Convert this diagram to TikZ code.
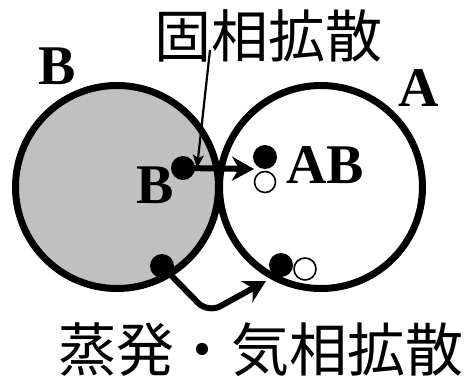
\documentclass[tikz,border=0pt]{standalone}
\usepackage{fontspec}
\setmainfont{Liberation Serif}
\newfontfamily\cjk{Noto Sans CJK JP}
\usetikzlibrary{arrows.meta}
\definecolor{fillgray}{HTML}{C0C0C0}
\tikzset{
  particle/.style={circle, draw, line width=7pt, minimum size=203pt, inner sep=0pt},
  lbl/.style={inner sep=0pt, font=\fontsize{56}{60}\selectfont\bfseries},
  jlbl/.style={inner sep=0pt, font=\fontsize{57}{60}\selectfont\cjk},
  fdot/.style={circle, fill=black, minimum size=24pt, inner sep=0pt},
  odot/.style={circle, draw=black, line width=1.6pt, fill=white, minimum size=21pt, inner sep=0pt},
  thick arrow/.style={line width=6pt, -{Stealth[length=22pt, width=24pt, inset=7pt]}},
  thin arrow/.style={line width=2.2pt, -{Stealth[length=13pt, width=11pt, inset=3pt]}}
}
\begin{document}
\begin{tikzpicture}[x=1pt, y=-1pt]
\useasboundingbox (0,0) rectangle (469,381);
\node[particle, fill=fillgray] (pB) at (117,187) {};
\node[particle] (pA) at (321,187) {};
\node[lbl] (labB) at (57.5,66) {B};
\node[lbl] (labA) at (419,88) {A};
\node[lbl] (inB) at (155,185) {B};
\node[lbl] (AB) at (325,165) {AB};
\node[jlbl] (solid) at (268,36) {固相拡散};
\node[jlbl, font=\fontsize{58}{60}\selectfont\cjk] (vapor) at (261,350) {蒸発・気相拡散};
\node[fdot] (d1) at (183,168) {};
\node[fdot] (d2) at (265,157) {};
\node[odot] (o2) at (265,182) {};
\node[fdot] (d3) at (162,266) {};
\node[odot, minimum size=22pt] (o4) at (305,269) {};
\node[fdot] (d4) at (281,265) {};
\coordinate (htip) at (254,169);
\coordinate (sstart) at (210,50);
\coordinate (stip) at (197,168);
\coordinate (vbend) at (208,313);
\coordinate (vtip) at (266,281);
\draw[thick arrow] (d1.center) -- (htip);
\draw[thin arrow] (sstart) -- (stip);
\draw[thick arrow, rounded corners=14pt] (d3.center) -- (vbend) -- (vtip);
\end{tikzpicture}
\end{document}
